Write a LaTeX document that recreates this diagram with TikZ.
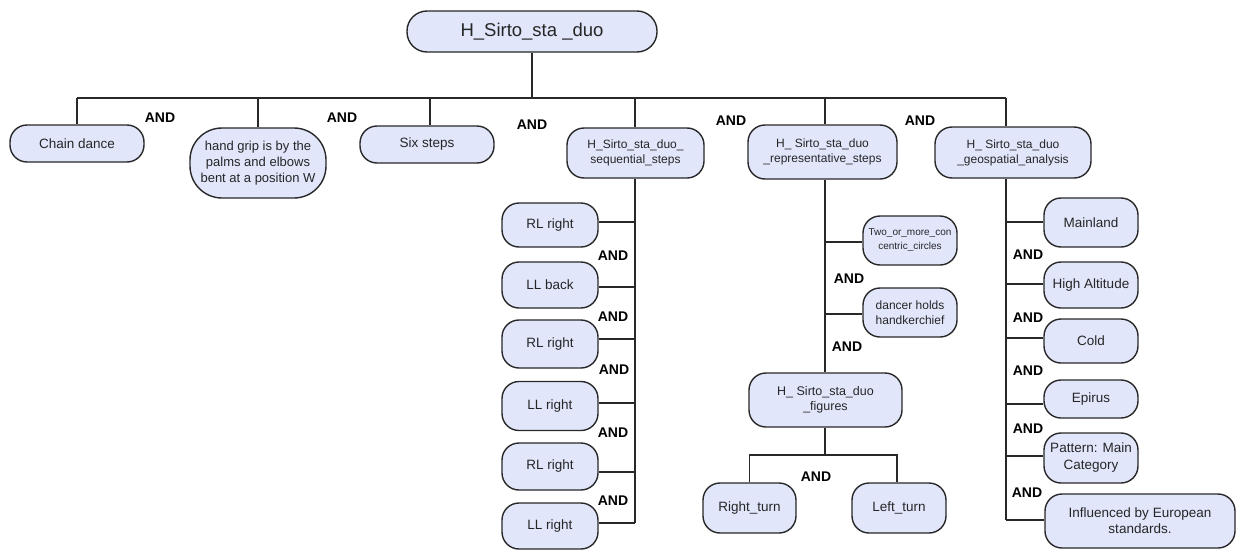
\documentclass[tikz,border=0pt]{standalone}
\usepackage{fontspec}
\setmainfont{Liberation Sans}
\definecolor{boxfill}{RGB}{225,230,251}
\definecolor{edge}{RGB}{40,40,40}
\tikzset{
  box/.style={draw=edge, fill=boxfill, rounded corners=17pt, line width=1.4pt, align=center,
    inner sep=1pt, text=black!85, font=\fontsize{13.5}{16}\selectfont},
  link/.style={draw=edge, line width=1.5pt},
  andlbl/.style={font=\bfseries\fontsize{14}{16}\selectfont, inner sep=0pt}
}
\begin{document}
\begin{tikzpicture}[x=1pt,y=-1pt]
\useasboundingbox (0,0) rectangle (1236,549);
% nodes
\node[box, minimum width=250pt, minimum height=41pt, rounded corners=20pt, font=\fontsize{18.5}{20}\selectfont] (root) at (532,31.5) {H\_Sirto\_sta \_duo};
\node[box, minimum width=134pt, minimum height=37pt] (chain) at (77,143.5) {Chain dance};
\node[box, minimum width=136pt, minimum height=70pt, rounded corners=32pt, font=\fontsize{13}{16}\selectfont] (hand) at (258,163) {hand grip is by the\\palms and elbows\\bent at a position W};
\node[box, minimum width=134pt, minimum height=37pt] (six) at (427,144.5) {Six steps};
\node[box, minimum width=137pt, minimum height=50pt, font=\fontsize{12}{15}\selectfont] (seq) at (635.5,153) {H\_Sirto\_sta\_duo\_\\sequential\_steps};
\node[box, minimum width=149pt, minimum height=54pt, font=\fontsize{12}{15}\selectfont] (rep) at (822.5,152) {H\_ Sirto\_sta\_duo\\\_representative\_steps};
\node[box, minimum width=156pt, minimum height=51pt, font=\fontsize{12}{15}\selectfont] (geo) at (1013,152.5) {H\_ Sirto\_sta\_duo\\\_geospatial\_analysis};
% sequential children
\node[box, minimum width=96pt, minimum height=44pt] (s1) at (550,225) {RL right};
\node[box, minimum width=96pt, minimum height=46pt] (s2) at (550,285) {LL back};
\node[box, minimum width=96pt, minimum height=48pt] (s3) at (550,344) {RL right};
\node[box, minimum width=96pt, minimum height=49pt] (s4) at (550,406) {LL right};
\node[box, minimum width=96pt, minimum height=47pt] (s5) at (550,466.5) {RL right};
\node[box, minimum width=96pt, minimum height=46pt] (s6) at (550,526) {LL right};
% representative children
\node[box, minimum width=94pt, minimum height=49pt, font=\fontsize{10}{14}\selectfont] (two) at (910,240.5) {Two\_or\_more\_con\\centric\_circles};
\node[box, minimum width=94pt, minimum height=49pt, font=\fontsize{12}{15}\selectfont] (dancer) at (910,312.5) {dancer holds\\handkerchief};
\node[box, minimum width=153pt, minimum height=54pt, font=\fontsize{12.5}{15}\selectfont] (figs) at (825.5,400) {H\_ Sirto\_sta\_duo\\\_figures};
\node[box, minimum width=93pt, minimum height=50pt] (rturn) at (749.5,508) {Right\_turn};
\node[box, minimum width=94pt, minimum height=50pt] (lturn) at (899,508) {Left\_turn};
% geospatial children
\node[box, minimum width=94pt, minimum height=49pt] (g1) at (1091,222.5) {Mainland};
\node[box, minimum width=94pt, minimum height=46pt] (g2) at (1091,285) {High Altitude};
\node[box, minimum width=94pt, minimum height=44pt] (g3) at (1091,341) {Cold};
\node[box, minimum width=94pt, minimum height=38pt] (g4) at (1091,399) {Epirus};
\node[box, minimum width=94pt, minimum height=50pt, font=\fontsize{13.5}{17}\selectfont] (g5) at (1091,458) {Pattern: Main\\Category};
\node[box, minimum width=190pt, minimum height=54pt] (g6) at (1140,521) {Influenced by European\\standards.};
% coordinates
\coordinate (bus) at (532,98);
\coordinate (busL) at (77,98);
\coordinate (busR) at (1006,98);
\coordinate (sixx) at (430,98);
\coordinate (seqx) at (635,98);
\coordinate (repx) at (825,98);
\coordinate (sbot) at (635,523);
\coordinate (gbot) at (1006,520);
\coordinate (fbar) at (825,455);
% top connectors
\draw[link] (root.south) -- (bus);
\draw[link] (busL) -- (busR);
\draw[link] (busL) -- (chain.north);
\draw[link] (hand.north |- bus) -- (hand.north);
\draw[link] (sixx) -- (sixx |- six.north);
\draw[link] (seqx) -- (seqx |- seq.north);
\draw[link] (repx) -- (repx |- rep.north);
\draw[link] (busR) -- (busR |- geo.north);
% sequential
\draw[link] (sbot |- seq.south) -- (sbot);
\draw[link] ([yshift=3pt]s1.east) -- ([yshift=3pt]s1.east -| sbot);
\draw[link] ([yshift=-2pt]s2.east) -- ([yshift=-2pt]s2.east -| sbot);
\draw[link] ([yshift=5pt]s3.east) -- ([yshift=5pt]s3.east -| sbot);
\draw[link] ([yshift=3pt]s4.east) -- ([yshift=3pt]s4.east -| sbot);
\draw[link] ([yshift=-5.5pt]s5.east) -- ([yshift=-5.5pt]s5.east -| sbot);
\draw[link] ([yshift=3pt]s6.east) -- (sbot);
% representative
\draw[link] (repx |- rep.south) -- (repx |- figs.north);
\draw[link] ([yshift=-1.5pt]two.west) -- ([yshift=-1.5pt]two.west -| repx);
\draw[link] ([yshift=-1.5pt]dancer.west) -- ([yshift=-1.5pt]dancer.west -| repx);
\draw[link] (fbar |- figs.south) -- (fbar);
\draw[link] (rturn.north) |- (fbar) -| ([xshift=-2pt]lturn.north);
% geospatial
\draw[link] (busR |- geo.south) -- (gbot);
\draw[link] ([yshift=0.5pt]g1.west) -- ([yshift=0.5pt]g1.west -| gbot);
\draw[link] ([yshift=1pt]g2.west) -- ([yshift=1pt]g2.west -| gbot);
\draw[link] ([yshift=3pt]g3.west) -- ([yshift=3pt]g3.west -| gbot);
\draw[link] ([yshift=-5pt]g4.west) -- ([yshift=-5pt]g4.west -| gbot);
\draw[link] ([yshift=2pt]g5.west) -- ([yshift=2pt]g5.west -| gbot);
\draw[link] (gbot) -- (gbot -| g6.west);
% AND labels
\node[andlbl] (a1) at (160,118) {AND};
\node[andlbl] (a2) at (342,118) {AND};
\node[andlbl] (a3) at (532,125) {AND};
\node[andlbl] (a4) at (731,121) {AND};
\node[andlbl] (a5) at (920,121) {AND};
\node[andlbl] (b1) at (613,256) {AND};
\node[andlbl] (b2) at (613,317) {AND};
\node[andlbl] (b3) at (614,370) {AND};
\node[andlbl] (b4) at (613,433) {AND};
\node[andlbl] (b5) at (613,501) {AND};
\node[andlbl] (c1) at (849,279) {AND};
\node[andlbl] (c2) at (847,347) {AND};
\node[andlbl] (c3) at (816,477) {AND};
\node[andlbl] (d1) at (1028,255) {AND};
\node[andlbl] (d2) at (1028,318) {AND};
\node[andlbl] (d3) at (1028,371) {AND};
\node[andlbl] (d4) at (1028,429) {AND};
\node[andlbl] (d5) at (1027,493) {AND};
\end{tikzpicture}
\end{document}
